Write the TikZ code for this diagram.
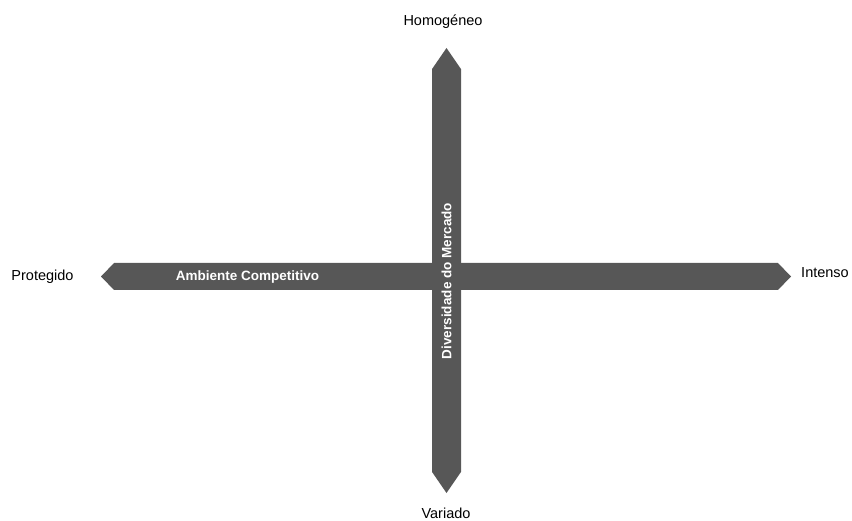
\documentclass[tikz,border=0pt]{standalone}
\usepackage{fontspec}
\setmainfont{Liberation Sans}
\usepackage{xcolor}
\usepackage{tikz}
\usetikzlibrary{shapes.arrows,positioning}
\definecolor{axisgray}{HTML}{575757}

\begin{document}
\begin{tikzpicture}[
          x=1pt, y=1pt,
          lbl/.style={font=\fontsize{14.5}{17}\selectfont, inner sep=0pt},
          inlbl/.style={font=\fontsize{13.5}{16}\selectfont\bfseries, text=white, inner sep=0pt},
          axisarrow/.style={shape=double arrow, fill=axisgray, draw=none, inner sep=0pt,
                            double arrow head extend=0pt}
      ]
        \useasboundingbox (0,0) rectangle (852,520);

        % the two axes
        \node[axisarrow, minimum height=690, minimum width=27,
              double arrow tip angle=92] (hax) at (446,243.5) {};
        \node[axisarrow, minimum height=445, minimum width=29,
              double arrow tip angle=69, shape border rotate=90] (vax) at (446.5,249.5) {};

        \node[inlbl] (amb) at (247.5,243) {Ambiente Competitivo};
        \node[inlbl, rotate=90] (div) at (446.5,239) {Diversidade do Mercado};

        % ends
        \node[lbl] (prot) at (42.5,243) {Protegido};
        \node[lbl] (int)  at (825,247) {Intenso};
        \node[lbl] (hom)  at (443,498) {Homogéneo};
        \node[lbl] (var)  at (446,7) {Variado};
      \end{tikzpicture}
\end{document}
